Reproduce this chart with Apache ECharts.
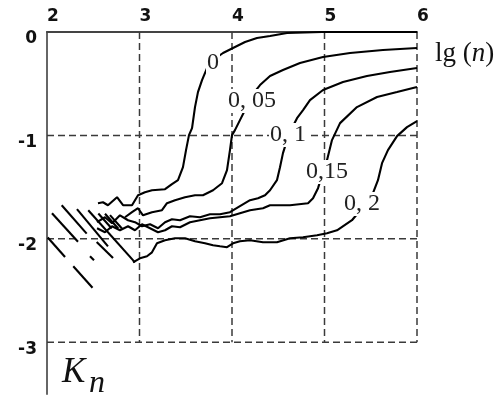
<!DOCTYPE html>
<html>
<head>
<meta charset="utf-8">
<script src="https://cdn.jsdelivr.net/npm/echarts@6/dist/echarts.min.js"></script>
<style>
html,body{margin:0;padding:0;background:#fff;}
#chart{width:500px;height:398px;}
</style>
</head>
<body>
<div id="chart"></div>
<script>
// ---- data (lg n , K_n) ----
const gridXs = [3, 4, 5, 6];
const gridYs = [-1, -2, -3];
const curveLabels = ['0', '0, 05', '0, 1', '0,15', '0, 2'];

const curve0 = [
  [2.551,-1.655],[2.605,-1.646],[2.659,-1.675],[2.757,-1.597],[2.822,-1.675],[2.919,-1.675],
  [2.984,-1.578],[3.059,-1.549],[3.135,-1.530],[3.276,-1.520],[3.351,-1.471],[3.416,-1.433],
  [3.470,-1.307],[3.503,-1.142],[3.535,-0.997],[3.568,-0.929],[3.600,-0.726],[3.632,-0.581],
  [3.676,-0.465],[3.730,-0.349],[3.795,-0.271],[3.903,-0.203],[4.011,-0.155],[4.141,-0.097],
  [4.270,-0.058],[4.411,-0.039],[4.595,-0.010],[4.973,0],[6.0,0]
];
const curve005 = [
  [2.843,-1.791],[2.919,-1.742],[2.984,-1.704],[3.038,-1.772],[3.135,-1.742],[3.243,-1.723],
  [3.297,-1.655],[3.384,-1.626],[3.492,-1.597],[3.600,-1.578],[3.686,-1.578],[3.795,-1.530],
  [3.892,-1.462],[3.946,-1.336],[3.978,-1.142],[4.000,-0.997],[4.032,-0.949],[4.086,-0.852],
  [4.141,-0.755],[4.216,-0.610],[4.303,-0.513],[4.411,-0.426],[4.551,-0.368],[4.735,-0.300],
  [4.984,-0.242],[5.276,-0.203],[5.632,-0.174],[6.0,-0.155]
];
const curve01 = [
  [2.541,-1.839],[2.627,-1.791],[2.703,-1.849],[2.789,-1.772],[2.876,-1.820],[2.951,-1.839],
  [3.027,-1.878],[3.114,-1.859],[3.200,-1.897],[3.276,-1.839],[3.351,-1.810],[3.438,-1.820],
  [3.546,-1.781],[3.654,-1.791],[3.762,-1.762],[3.870,-1.762],[3.978,-1.742],[4.086,-1.684],
  [4.195,-1.626],[4.281,-1.607],[4.357,-1.578],[4.411,-1.530],[4.486,-1.433],[4.519,-1.307],
  [4.551,-1.171],[4.595,-1.045],[4.649,-0.929],[4.703,-0.833],[4.768,-0.755],[4.843,-0.658],
  [4.984,-0.561],[5.200,-0.484],[5.459,-0.426],[5.708,-0.387],[6.0,-0.348]
];
const curve015 = [
  [2.541,-1.897],[2.627,-1.936],[2.703,-1.878],[2.789,-1.917],[2.876,-1.878],[2.951,-1.917],
  [3.027,-1.859],[3.114,-1.897],[3.200,-1.936],[3.276,-1.917],[3.351,-1.878],[3.438,-1.888],
  [3.546,-1.839],[3.654,-1.820],[3.762,-1.801],[3.870,-1.791],[3.978,-1.781],[4.086,-1.752],
  [4.195,-1.723],[4.335,-1.704],[4.411,-1.675],[4.627,-1.675],[4.822,-1.655],[4.876,-1.607],
  [4.930,-1.510],[4.984,-1.355],[5.027,-1.239],[5.081,-1.045],[5.168,-0.881],[5.351,-0.726],
  [5.568,-0.629],[5.784,-0.581],[6.0,-0.532]
];
const curve02 = [
  [2.930,-2.227],[3.005,-2.188],[3.081,-2.168],[3.135,-2.130],[3.189,-2.043],[3.276,-2.014],
  [3.384,-1.994],[3.492,-1.994],[3.600,-2.023],[3.708,-2.043],[3.795,-2.062],[3.870,-2.072],
  [3.946,-2.081],[4.011,-2.043],[4.086,-2.023],[4.195,-2.014],[4.335,-2.033],[4.486,-2.033],
  [4.627,-1.994],[4.768,-1.985],[4.919,-1.965],[5.027,-1.946],[5.135,-1.917],[5.297,-1.820],
  [5.405,-1.704],[5.524,-1.559],[5.578,-1.433],[5.622,-1.268],[5.686,-1.142],[5.784,-1.007],
  [5.892,-0.920],[6.0,-0.862]
];
// early staircase pieces (small n), each a straight segment
const stairSegments = [
  [[2.008,-1.987],[2.195,-2.175]],
  [[2.284,-2.265],[2.492,-2.473]],
  [[2.054,-1.752],[2.335,-2.028]],
  [[2.465,-2.168],[2.508,-2.207]],
  [[2.159,-1.675],[2.429,-1.949]],
  [[2.537,-2.030],[2.714,-2.185]],
  [[2.324,-1.713],[2.659,-2.072]],
  [[2.446,-1.723],[2.951,-2.227]],
  [[2.555,-1.755],[2.700,-1.900]],
  [[2.627,-1.757],[2.770,-1.900]],
  [[2.681,-1.771],[2.810,-1.900]]
];

// ---- chart ----
const chart = echarts.init(document.getElementById('chart'), null, {renderer:'canvas'});
const series = [];
const gridStyle = {color:'#3a3a3a', width:1.5, type:[7,4]};
gridXs.forEach(gx => series.push({type:'line', data:[[gx,0],[gx,-3]], showSymbol:false, silent:true, z:1, lineStyle:gridStyle}));
gridYs.forEach(gy => series.push({type:'line', data:[[2,gy],[6,gy]], showSymbol:false, silent:true, z:1, lineStyle:gridStyle}));
const curveStyle = {color:'#000', width:2.1};
[curve0, curve005, curve01, curve015, curve02].forEach(c => series.push({type:'line', data:c, showSymbol:false, z:3, lineStyle:curveStyle}));
stairSegments.forEach(s => series.push({type:'line', data:s, showSymbol:false, z:3, lineStyle:curveStyle}));

const labelFont = {fontFamily:'Liberation Serif', fontSize:24, fill:'#222', backgroundColor:'#fff', align:'center', verticalAlign:'middle', padding:[0,1]};
const labelPos = [[213,63],[252,101],[288,135],[327,172],[362,204]];
const graphics = curveLabels.map((t,i) => ({type:'text', x:labelPos[i][0], y:labelPos[i][1], z:50, style:Object.assign({text:t}, labelFont)}));
graphics.push({type:'text', x:435, y:54, z:50, style:{
  text:'{a|lg (}{b|n}{a|)}', verticalAlign:'middle', align:'left',
  rich:{a:{fontFamily:'Liberation Serif', fontSize:27, fill:'#111'}, b:{fontFamily:'Liberation Serif', fontStyle:'italic', fontSize:27, fill:'#111'}}
}});
graphics.push({type:'text', x:62, y:373, z:50, style:{text:'K', fontFamily:'Liberation Serif', fontStyle:'italic', fontSize:35, fill:'#111', align:'left', verticalAlign:'middle'}});
graphics.push({type:'text', x:89, y:384, z:50, style:{text:'n', fontFamily:'Liberation Serif', fontStyle:'italic', fontSize:32, fill:'#111', align:'left', verticalAlign:'middle'}});

chart.setOption({
  animation:false,
  backgroundColor:'#fff',
  grid:{left:47, top:32, width:370, height:362},
  xAxis:{
    type:'value', min:2, max:6, interval:1, position:'top',
    axisLine:{show:true, onZero:false, lineStyle:{color:'#444', width:2}},
    axisTick:{show:false}, splitLine:{show:false},
    axisLabel:{fontFamily:'DejaVu Sans', fontWeight:'bold', fontSize:17, color:'#111', align:'left', margin:7}
  },
  yAxis:{
    type:'value', min:-3.5, max:0, interval:0.5,
    axisLine:{show:true, onZero:false, lineStyle:{color:'#666', width:2}},
    axisTick:{show:false}, splitLine:{show:false},
    axisLabel:{
      formatter:v => (Number.isInteger(v) && v >= -3) ? String(v) : '',
      fontFamily:'DejaVu Sans', fontWeight:'bold', fontSize:17, color:'#111',
      margin:10, verticalAlign:'top', lineHeight:14
    }
  },
  series:series,
  graphic:graphics
});
</script>
</body>
</html>
